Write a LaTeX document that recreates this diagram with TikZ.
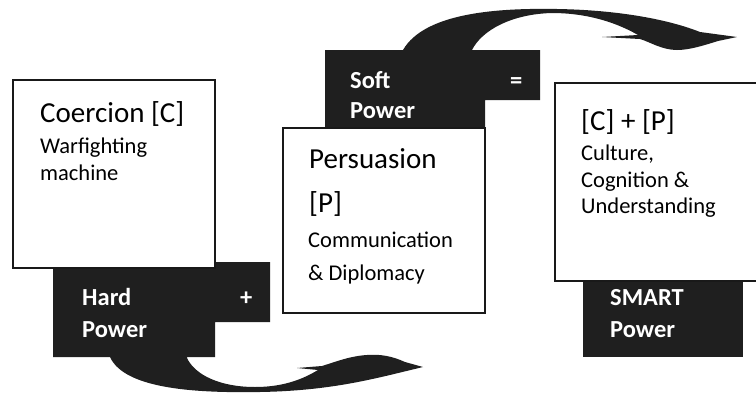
\documentclass[tikz,border=0pt]{standalone}
\usepackage{fontspec}
\setmainfont{Carlito}
\begin{document}
\begin{tikzpicture}[x=1pt,y=-1pt,
  wbox/.style={draw=black!90,line width=1.6pt,fill=white,inner sep=0pt,rectangle},
  blk/.style={fill=black!88},
  ttl/.style={anchor=base west,inner sep=0pt,text=black,font=\fontsize{29}{33}\selectfont},
  sml/.style={anchor=base west,inner sep=0pt,text=black,font=\fontsize{22.5}{26}\selectfont},
  wlab/.style={anchor=base west,inner sep=0pt,text=white,font=\bfseries\fontsize{24.5}{28}\selectfont}]
\useasboundingbox (0,0) rectangle (756,394);
% arrows
\fill[blk] (110,350) -- (110,357) .. controls (125,390) and (200,393) .. (260,392)
  .. controls (320,391) and (360,382) .. (390,375) -- (423,367) -- (405,362)
  .. controls (392,356) and (380,354) .. (367,355) .. controls (350,356) and (335,362) .. (322,366)
  -- (297,368) -- (318,370) .. controls (300,381) and (280,387) .. (255,387)
  .. controls (220,387) and (195,375) .. (187,358) -- (187,350) -- cycle;
\fill[blk] (403,56) -- (403,50) .. controls (425,12) and (500,8) .. (557,9)
  .. controls (620,10) and (670,20) .. (700,32) -- (737,37) -- (718,41)
  .. controls (705,45) and (690,50) .. (677,50) .. controls (662,50) and (650,42) .. (640,39)
  -- (602,37) -- (638,35) .. controls (612,20) and (582,13) .. (552,13)
  .. controls (512,14) and (482,30) .. (472,50) -- (472,56) -- cycle;
% black label boxes
\fill[blk] (53,262) -- (270,262) -- (270,322) -- (215,322) -- (215,357) -- (53,357) -- cycle;
\coordinate (hard) at (53,267);
\fill[blk] (325,50) -- (540,50) -- (540,100) -- (485,100) -- (485,140) -- (325,140) -- cycle;
\coordinate (soft) at (325,50);
\node[fill=black!88,inner sep=0pt,minimum width=160pt,minimum height=80pt] (smart) at (663,317) {};
% white boxes
\node[wbox,minimum width=202pt,minimum height=188pt] (coer) at (114,174) {};
\node[wbox,minimum width=202pt,minimum height=185pt] (pers) at (384,220.5) {};
\node[wbox,minimum width=210pt,minimum height=198pt] (cp) at (660,182) {};
% texts
\node[ttl] (t1) at (40,122) {Coercion [C]};
\node[sml] (t2) at (40,153) {Warfighting};
\node[sml] (t3) at (40,180) {machine};
\node[wlab] (h1) at (82,305) {Hard};
\node[wlab] (h2) at (82,337) {Power};
\node[wlab] (hp) at (240,305) {+};
\node[wlab] (s1) at (350,88) {Soft};
\node[wlab] (s2) at (350,118) {Power};
\node[wlab] (se) at (510,88) {=};
\node[ttl] (p1) at (309,168) {Persuasion};
\node[ttl] (p2) at (309,212) {[P]};
\node[sml] (p3) at (308,247) {Communication};
\node[sml] (p4) at (308,280) {\& Diplomacy};
\node[ttl] (c1) at (581,130) {[C] + [P]};
\node[sml] (c2) at (581,160) {Culture,};
\node[sml] (c3) at (581,187) {Cognition \&};
\node[sml] (c4) at (581,213) {Understanding};
\node[wlab] (m1) at (610,305) {SMART};
\node[wlab] (m2) at (610,337) {Power};
\end{tikzpicture}
\end{document}
